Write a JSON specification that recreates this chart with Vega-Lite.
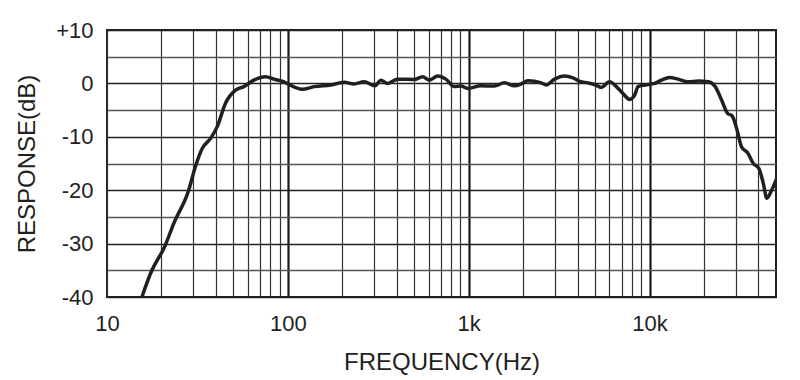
{
  "$schema": "https://vega.github.io/schema/vega-lite/v6.json",
  "width": 669,
  "height": 267,
  "autosize": {"type": "none"},
  "padding": {"left": 107, "top": 30, "right": 24, "bottom": 83},
  "background": "white",
  "config": {
    "view": {"stroke": "#231f20", "strokeWidth": 2},
    "font": "Liberation Sans"
  },
  "data": {
    "values": [
      {"f": 15.6, "db": -40},
      {"f": 17.4, "db": -35.6},
      {"f": 21.0, "db": -30.3},
      {"f": 23.4, "db": -26.2},
      {"f": 28.3, "db": -20.0},
      {"f": 30.8, "db": -15.6},
      {"f": 33.6, "db": -12.2},
      {"f": 37.4, "db": -10.3},
      {"f": 40.7, "db": -8.1},
      {"f": 45.2, "db": -3.7},
      {"f": 51.4, "db": -1.25},
      {"f": 57.1, "db": -0.6},
      {"f": 64.9, "db": 0.6},
      {"f": 75.3, "db": 1.25},
      {"f": 83.7, "db": 0.8},
      {"f": 95.1, "db": 0.3},
      {"f": 100, "db": -0.1},
      {"f": 120, "db": -1.1},
      {"f": 140, "db": -0.6},
      {"f": 173, "db": -0.3},
      {"f": 205, "db": 0.2},
      {"f": 232, "db": -0.1},
      {"f": 264, "db": 0.3},
      {"f": 303, "db": -0.45},
      {"f": 327, "db": 0.6},
      {"f": 356, "db": 0},
      {"f": 404, "db": 0.8},
      {"f": 500, "db": 0.75},
      {"f": 556, "db": 1.25},
      {"f": 605, "db": 0.6},
      {"f": 673, "db": 1.4},
      {"f": 748, "db": 0.8},
      {"f": 832, "db": -0.6},
      {"f": 906, "db": -0.5},
      {"f": 987, "db": -0.95},
      {"f": 1169, "db": -0.45},
      {"f": 1386, "db": -0.5},
      {"f": 1575, "db": 0.1},
      {"f": 1790, "db": -0.45},
      {"f": 1950, "db": -0.1},
      {"f": 2123, "db": 0.5},
      {"f": 2516, "db": 0.1},
      {"f": 2682, "db": -0.3},
      {"f": 2981, "db": 0.8},
      {"f": 3386, "db": 1.4},
      {"f": 3770, "db": 1.05},
      {"f": 4102, "db": 0.4},
      {"f": 4563, "db": 0.1},
      {"f": 4966, "db": -0.2},
      {"f": 5408, "db": -0.75},
      {"f": 6011, "db": 0.3},
      {"f": 6547, "db": -0.6},
      {"f": 7129, "db": -1.9},
      {"f": 7762, "db": -3.0},
      {"f": 8267, "db": -2.2},
      {"f": 8630, "db": -0.6},
      {"f": 9394, "db": -0.3},
      {"f": 10670, "db": 0},
      {"f": 11620, "db": 0.6},
      {"f": 12920, "db": 1.1},
      {"f": 14380, "db": 0.8},
      {"f": 16330, "db": 0.3},
      {"f": 18570, "db": 0.45},
      {"f": 21090, "db": 0.3},
      {"f": 22970, "db": -0.5},
      {"f": 25000, "db": -3.1},
      {"f": 26980, "db": -5.6},
      {"f": 28640, "db": -6.1},
      {"f": 30270, "db": -8.4},
      {"f": 32270, "db": -11.9},
      {"f": 34830, "db": -13.0},
      {"f": 37450, "db": -15.0},
      {"f": 40200, "db": -15.9},
      {"f": 42520, "db": -18.7},
      {"f": 44500, "db": -21.5},
      {"f": 47300, "db": -20.0},
      {"f": 50000, "db": -18.1}
    ]
  },
  "mark": {
    "type": "line",
    "interpolate": "monotone",
    "color": "#231f20",
    "strokeWidth": 3.5,
    "strokeJoin": "round",
    "strokeCap": "round",
    "clip": true
  },
  "encoding": {
    "x": {
      "field": "f",
      "type": "quantitative",
      "scale": {"type": "log", "domain": [10, 50000], "nice": false},
      "axis": {
        "title": "FREQUENCY(Hz)",
        "titleFont": "Liberation Sans",
        "titleFontSize": 24,
        "titleFontWeight": "normal",
        "titleColor": "#231f20",
        "titlePadding": 16,
        "values": [10, 20, 30, 40, 50, 60, 70, 80, 90, 100, 200, 300, 400, 500, 600, 700, 800, 900, 1000, 2000, 3000, 4000, 5000, 6000, 7000, 8000, 9000, 10000, 20000, 30000, 40000],
        "labelExpr": "datum.value == 10 ? '10' : datum.value == 100 ? '100' : datum.value == 1000 ? '1k' : datum.value == 10000 ? '10k' : ''",
        "labelFont": "Liberation Sans",
        "labelFontSize": 22,
        "labelColor": "#231f20",
        "labelPadding": 16,
        "labelOverlap": false,
        "labelBound": false,
        "labelFlush": false,
        "ticks": false,
        "domain": false,
        "grid": true,
        "gridColor": {"condition": {"test": "datum.value == 100 || datum.value == 1000 || datum.value == 10000", "value": "#1a1a1a"}, "value": "#333333"},
        "gridWidth": {"condition": {"test": "datum.value == 100 || datum.value == 1000 || datum.value == 10000", "value": 2.2}, "value": 1.2},
        "gridOpacity": 1
      }
    },
    "y": {
      "field": "db",
      "type": "quantitative",
      "scale": {"domain": [-40, 10], "nice": false, "zero": false},
      "axis": {
        "title": "RESPONSE(dB)",
        "titleFont": "Liberation Sans",
        "titleFontSize": 24,
        "titleFontWeight": "normal",
        "titleColor": "#231f20",
        "titlePadding": 16,
        "values": [-40, -35, -30, -25, -20, -15, -10, -5, 0, 5, 10],
        "labelExpr": "datum.value % 10 == 0 ? (datum.value > 0 ? '+' + datum.value : '' + datum.value) : ''",
        "labelFont": "Liberation Sans",
        "labelFontSize": 22,
        "labelColor": "#231f20",
        "labelPadding": 14,
        "labelOverlap": false,
        "labelBound": false,
        "labelFlush": false,
        "ticks": false,
        "domain": false,
        "grid": true,
        "gridColor": {"condition": {"test": "datum.value % 10 == 0", "value": "#222222"}, "value": "#555555"},
        "gridWidth": 1.3,
        "gridOpacity": 1
      }
    }
  }
}
